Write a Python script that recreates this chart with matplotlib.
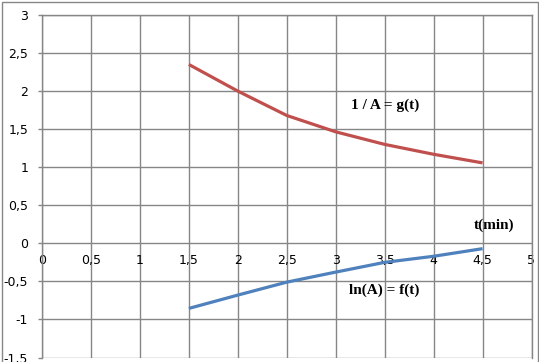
import matplotlib.pyplot as plt
from matplotlib.patches import Rectangle

# data
t = [1.5, 2.0, 2.5, 3.0, 3.5, 4.0, 4.5]
inv_a = [2.35, 2.0, 1.68, 1.465, 1.30, 1.17, 1.057]
ln_a = [-0.855, -0.68, -0.51, -0.378, -0.25, -0.17, -0.07]

x_ticks = [0, 0.5, 1, 1.5, 2, 2.5, 3, 3.5, 4, 4.5, 5]
y_ticks = [-1.5, -1, -0.5, 0, 0.5, 1, 1.5, 2, 2.5, 3]

grid_col = "#868686"
red = "#C0504D"
blue = "#4F81BD"

def comma(v):
    s = ("%g" % v).replace(".", ",")
    return s

fig = plt.figure(figsize=(5.39, 3.62), dpi=100)
ax = fig.add_axes([42 / 539, 1 - 357.5 / 362, (531.5 - 42) / 539, (357.5 - 15) / 362])

ax.plot(t, inv_a, color=red, lw=2.3, solid_capstyle="butt", zorder=3)
ax.plot(t, ln_a, color=blue, lw=2.3, solid_capstyle="butt", zorder=3)

ax.set_xlim(0, 5)
ax.set_ylim(-1.5, 3)
ax.set_xticks(x_ticks)
ax.set_yticks(y_ticks)
ax.set_xticklabels([comma(v) for v in x_ticks])
ax.set_yticklabels([comma(v) for v in y_ticks])
ax.grid(True, color=grid_col, lw=1.0)
ax.set_axisbelow(True)

for s in ax.spines.values():
    s.set_color(grid_col)
    s.set_linewidth(1.0)
ax.spines["bottom"].set_position(("data", 0))
ax.spines["bottom"].set_visible(False)

ax.tick_params(axis="y", length=3, width=1, color=grid_col, pad=7,
               labelsize=9, labelcolor="black")
ax.tick_params(axis="x", length=0, pad=8, labelsize=9, labelcolor="black")

serif = ["Liberation Serif", "DejaVu Serif"]
ax.text(3.5, 1.82, "1 / A = g(t)", family=serif, weight="bold", fontsize=11,
        ha="center", va="center")
ax.text(3.5, -0.62, "ln(A) = f(t)", family=serif, weight="bold", fontsize=11,
        ha="center", va="center")
ax.text(4.62, 0.24, "t(min)", family=serif, weight="bold", fontsize=11,
        ha="center", va="center")

# chart area border
fig.patches.append(Rectangle((1.5 / 539, -0.01), 536.5 / 539, 1 - 1.5 / 362 + 0.01,
                             transform=fig.transFigure, fill=False,
                             edgecolor=grid_col, lw=1.0))

fig.savefig("out.png", dpi=100)
